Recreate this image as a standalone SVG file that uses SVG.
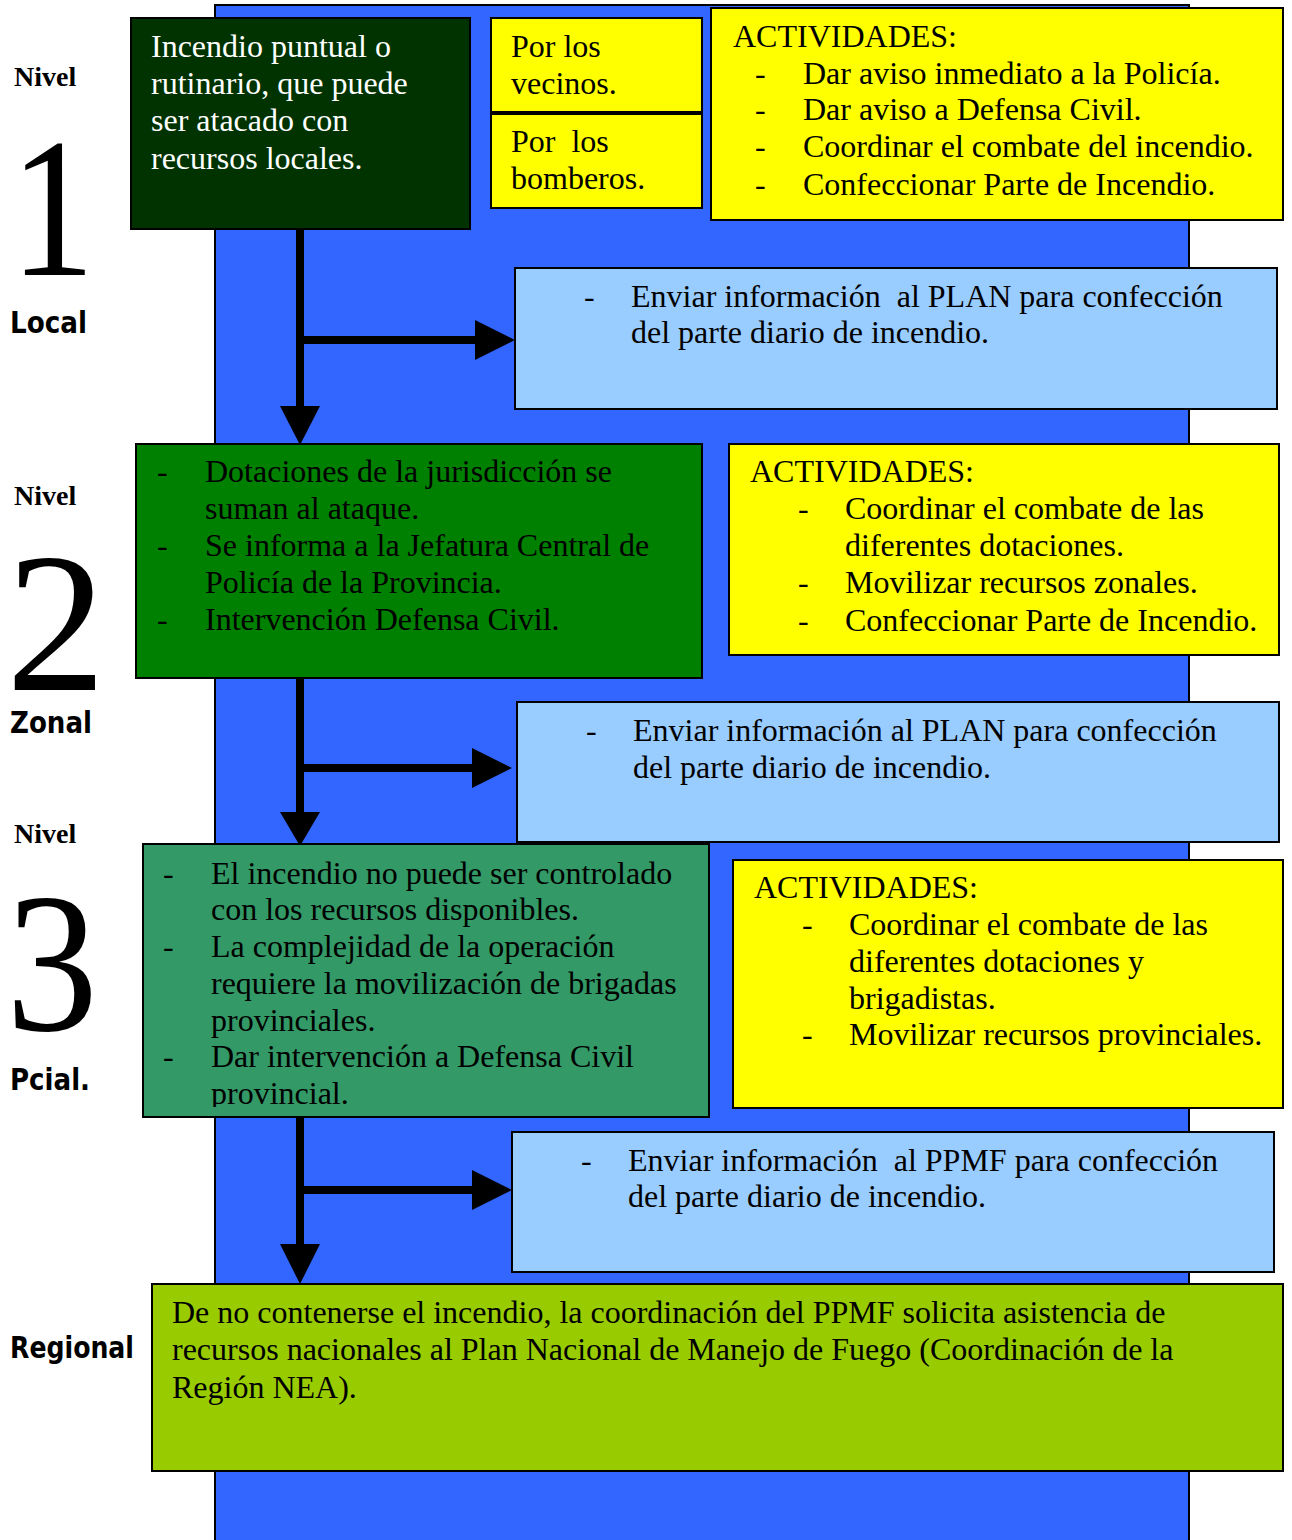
<svg xmlns="http://www.w3.org/2000/svg" width="1292" height="1540" viewBox="0 0 1292 1540">
<style>
.box{stroke:#000;stroke-width:2}
.t{font-family:"Liberation Serif","Times New Roman",serif;font-size:32px;fill:#000}
.w{fill:#fff}
.nivel{font-family:"Liberation Serif",serif;font-size:28px;font-weight:bold;fill:#000}
.num{font-family:"Liberation Serif",serif;font-size:200px;fill:#000}
.lab{font-family:"DejaVu Sans",sans-serif;font-size:30px;font-weight:bold;fill:#000}
.conn{stroke:#000;stroke-width:8;fill:none}
</style>
<defs>
<clipPath id="c3"><rect x="143" y="844" width="566" height="263"/></clipPath>
</defs>
<rect width="1292" height="1540" fill="#fff"/>
<g id="background"><rect x="215" y="5" width="974" height="1545" fill="#3366ff" stroke="#000" stroke-width="2"/></g>

<g id="labels">
<text class="nivel" x="14" y="86">Nivel</text>
<text class="num" x="10" y="275" textLength="85" lengthAdjust="spacingAndGlyphs">1</text>
<text class="lab" x="10" y="333" textLength="77" lengthAdjust="spacingAndGlyphs">Local</text>
<text class="nivel" x="14" y="505">Nivel</text>
<text class="num" x="6" y="690">2</text>
<text class="lab" x="10" y="733" textLength="82" lengthAdjust="spacingAndGlyphs">Zonal</text>
<text class="nivel" x="14" y="843">Nivel</text>
<text class="num" x="6" y="1030" textLength="92" lengthAdjust="spacingAndGlyphs">3</text>
<text class="lab" x="10" y="1090" textLength="80" lengthAdjust="spacingAndGlyphs">Pcial.</text>
<text class="lab" x="10" y="1358" textLength="124" lengthAdjust="spacingAndGlyphs">Regional</text>
</g>

<g id="connectors">
<path class="conn" d="M300 229V412M300 340H478"/>
<polygon points="280,406 320,406 300,445"/>
<polygon points="475,320 515,340 475,360"/>
<path class="conn" d="M300 678V815M300 768H475"/>
<polygon points="280,812 320,812 300,846"/>
<polygon points="472,748 512,768 472,788"/>
<path class="conn" d="M300 1117V1248M300 1190H475"/>
<polygon points="280,1244 320,1244 300,1284"/>
<polygon points="472,1170 512,1190 472,1210"/>
</g>

<g id="n1">
<rect class="box" x="131" y="18" width="339" height="211" fill="#003300"/>
<text class="t w" x="151" y="57">Incendio puntual o</text>
<text class="t w" x="151" y="94">rutinario, que puede</text>
<text class="t w" x="151" y="131">ser atacado con</text>
<text class="t w" x="151" y="169">recursos locales.</text>
</g>
<g id="vecinos">
<rect class="box" x="491" y="18" width="211" height="94" fill="#ffff00"/>
<text class="t" x="511" y="57">Por los</text>
<text class="t" x="511" y="94">vecinos.</text>
</g>
<g id="bomberos">
<rect class="box" x="491" y="114" width="211" height="94" fill="#ffff00"/>
<text class="t" x="511" y="152" xml:space="preserve">Por  los</text>
<text class="t" x="511" y="189">bomberos.</text>
</g>
<g id="act1">
<rect class="box" x="711" y="8" width="572" height="212" fill="#ffff00"/>
<text class="t" x="733" y="47">ACTIVIDADES:</text>
<text class="t" x="755" y="84">-</text><text class="t" x="803" y="84">Dar aviso inmediato a la Policía.</text>
<text class="t" x="755" y="120">-</text><text class="t" x="803" y="120">Dar aviso a Defensa Civil.</text>
<text class="t" x="755" y="157">-</text><text class="t" x="803" y="157">Coordinar el combate del incendio.</text>
<text class="t" x="755" y="195">-</text><text class="t" x="803" y="195">Confeccionar Parte de Incendio.</text>
</g>
<g id="info1">
<rect class="box" x="515" y="268" width="762" height="141" fill="#99ccff"/>
<text class="t" x="584" y="307">-</text>
<text class="t" x="631" y="307" xml:space="preserve">Enviar información  al PLAN para confección</text>
<text class="t" x="631" y="343">del parte diario de incendio.</text>
</g>

<g id="n2">
<rect class="box" x="136" y="444" width="566" height="234" fill="#008000"/>
<text class="t" x="157" y="482">-</text><text class="t" x="205" y="482">Dotaciones de la jurisdicción se</text>
<text class="t" x="205" y="519">suman al ataque.</text>
<text class="t" x="157" y="556">-</text><text class="t" x="205" y="556">Se informa a la Jefatura Central de</text>
<text class="t" x="205" y="593">Policía de la Provincia.</text>
<text class="t" x="157" y="630">-</text><text class="t" x="205" y="630">Intervención Defensa Civil.</text>
</g>
<g id="act2">
<rect class="box" x="729" y="444" width="550" height="211" fill="#ffff00"/>
<text class="t" x="750" y="482">ACTIVIDADES:</text>
<text class="t" x="798" y="519">-</text><text class="t" x="845" y="519">Coordinar el combate de las</text>
<text class="t" x="845" y="556">diferentes dotaciones.</text>
<text class="t" x="798" y="593">-</text><text class="t" x="845" y="593">Movilizar recursos zonales.</text>
<text class="t" x="798" y="631">-</text><text class="t" x="845" y="631">Confeccionar Parte de Incendio.</text>
</g>
<g id="info2">
<rect class="box" x="517" y="702" width="762" height="140" fill="#99ccff"/>
<text class="t" x="586" y="741">-</text>
<text class="t" x="633" y="741">Enviar información al PLAN para confección</text>
<text class="t" x="633" y="778">del parte diario de incendio.</text>
</g>

<g id="n3">
<rect class="box" x="143" y="844" width="566" height="273" fill="#339966"/>
<g clip-path="url(#c3)">
<text class="t" x="163" y="884">-</text><text class="t" x="211" y="884">El incendio no puede ser controlado</text>
<text class="t" x="211" y="920">con los recursos disponibles.</text>
<text class="t" x="163" y="957">-</text><text class="t" x="211" y="957">La complejidad de la operación</text>
<text class="t" x="211" y="994">requiere la movilización de brigadas</text>
<text class="t" x="211" y="1031">provinciales.</text>
<text class="t" x="163" y="1067">-</text><text class="t" x="211" y="1067">Dar intervención a Defensa Civil</text>
<text class="t" x="211" y="1104">provincial.</text>
</g>
</g>
<g id="act3">
<rect class="box" x="733" y="860" width="550" height="248" fill="#ffff00"/>
<text class="t" x="754" y="898">ACTIVIDADES:</text>
<text class="t" x="802" y="935">-</text><text class="t" x="849" y="935">Coordinar el combate de las</text>
<text class="t" x="849" y="972">diferentes dotaciones y</text>
<text class="t" x="849" y="1009">brigadistas.</text>
<text class="t" x="802" y="1045">-</text><text class="t" x="849" y="1045">Movilizar recursos provinciales.</text>
</g>
<g id="info3">
<rect class="box" x="512" y="1132" width="762" height="140" fill="#99ccff"/>
<text class="t" x="581" y="1171">-</text>
<text class="t" x="628" y="1171" xml:space="preserve">Enviar información  al PPMF para confección</text>
<text class="t" x="628" y="1207">del parte diario de incendio.</text>
</g>

<g id="regional">
<rect class="box" x="152" y="1284" width="1131" height="187" fill="#99cc00"/>
<text class="t" x="172" y="1323">De no contenerse el incendio, la coordinación del PPMF solicita asistencia de</text>
<text class="t" x="172" y="1360">recursos nacionales al Plan Nacional de Manejo de Fuego (Coordinación de la</text>
<text class="t" x="172" y="1398">Región NEA).</text>
</g>
</svg>
